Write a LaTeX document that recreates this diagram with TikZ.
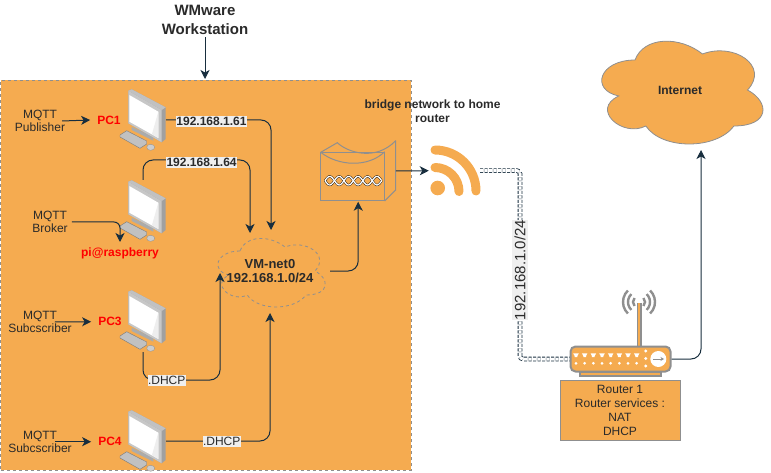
\documentclass[tikz,border=0pt]{standalone}
\usepackage{fontspec}
\setmainfont{Liberation Sans}
\usetikzlibrary{arrows.meta,calc}
\definecolor{boxfill}{HTML}{F5AB50}
\definecolor{wirecol}{HTML}{182E3E}
\definecolor{greyline}{HTML}{8F8F8F}
\definecolor{labelbg}{HTML}{EFEFEF}
\definecolor{inkcol}{HTML}{2A2A2A}
\newcommand{\fs}[1]{\fontsize{#1}{#1}\selectfont}
\newcommand{\cloudshape}[5]{%
  \begin{scope}[shift={(#1,#2)},x=#3pt,y=-#4pt]
    \draw[#5] (.25,.25) .. controls (.05,.25) and (0,.5) .. (.16,.55)
      .. controls (0,.66) and (.18,.9) .. (.31,.8)
      .. controls (.4,1) and (.7,1) .. (.8,.8)
      .. controls (1,.8) and (1,.6) .. (.875,.5)
      .. controls (1,.3) and (.8,.1) .. (.625,.2)
      .. controls (.5,.05) and (.3,.05) .. (.25,.25) -- cycle;
  \end{scope}}
\tikzset{
  wire/.style={draw=wirecol,line width=1pt,rounded corners=10pt,-{Stealth[length=9pt,width=9pt,inset=2.5pt]}},
  dblwire/.style={draw=wirecol,line width=.8pt,double=white,double distance=3pt,dash pattern=on 3pt off 1.5pt,rounded corners=3pt},
  txt/.style={text=inkcol,font=\fs{12},align=center,inner sep=1pt},
  boldtxt/.style={txt,font=\fs{12}\bfseries},
  redtxt/.style={text=red,font=\fs{12}\bfseries,inner xsep=7pt,inner ysep=1pt},
  iplabel/.style={boldtxt,fill=labelbg,inner xsep=0.5pt,inner ysep=1.5pt},
  dhcplabel/.style={txt,fill=labelbg,inner xsep=0.5pt,inner ysep=1.5pt},
  pcbox/.style={minimum width=46pt,minimum height=62pt,inner sep=0pt},
  pcicon/.pic={
    \fill[greyline!75] (-11.3,6.7)--(10.3,16.7)--(10.3,20.7)--(-11.3,10)--cycle;
    \draw[greyline!85!black,line width=.4pt,fill=greyline!55] (-23,15)--(-16.3,10.7)--(3.7,21)--(3.7,24)--(-3,28.3)--(-23,17)--cycle;
    \draw[greyline,line width=.3pt,fill=greyline!45] (7.7,27.3) ellipse[x radius=4,y radius=3];
    \fill[greyline!85] (-14.7,-29.3)--(-11.3,-30.7)--(22.7,-12.7)--(22.7,19)--(18.7,22.3)--(-14.7,3.3)--cycle;
    \fill[greyline!55] (-14.7,-29.3)--(-11.3,-30.7)--(22.7,-12.7)--(18.7,-10)--cycle;
    \fill[greyline!50] (18.7,-10)--(-14.7,-29.3)--(-14.7,3.3)--(18.7,22.3)--cycle;
    \fill[white] (-13.7,-25)--(15.3,-8.3)--(15.3,18)--(-13.7,1.7)--cycle;
    \fill[greyline!15] (15.3,-8.3)--(15.3,18)--(9,14)--cycle;
  }
}
\begin{document}
\begin{tikzpicture}[x=1pt,y=-1pt]
\useasboundingbox (0,0) rectangle (771,473);
% container
\node[draw=greyline,dashed,fill=boxfill,line width=.7pt,anchor=north west,minimum width=410pt,minimum height=390pt,inner sep=0pt] (vmbox) at (0.5,80) {};
% clouds
\cloudshape{590}{30}{180}{120}{draw=greyline,fill=boxfill,line width=.8pt}
\cloudshape{210}{231}{120}{80}{draw=greyline,dashed,line width=.8pt}
\node[minimum width=180pt,minimum height=120pt,inner sep=0pt,boldtxt] (internet) at (680,90) {Internet};
\node[minimum width=120pt,minimum height=80pt,inner sep=0pt,font=\fs{13}\bfseries,text=inkcol,align=center] (vmnet) at (270,271) {VM-net0\\[1.5pt]192.168.1.0/24};
% computer placeholders
\node[pcbox] (pc1) at (143,120) {};
\node[pcbox] (pc2) at (143,211) {};
\node[pcbox] (pc3) at (143,321) {};
\node[pcbox] (pc4) at (143,441) {};
% bridge placeholder, wifi placeholder, router
\node[minimum width=75pt,minimum height=61pt,inner sep=0pt] (bridge) at (358.2,171) {};
\node[minimum width=51pt,minimum height=51pt,inner sep=0pt] (wifi) at (454.5,170.7) {};
\node[inner sep=0pt,font=\fs{15}\bfseries,text=inkcol,align=center] (title) at (205,19.5) {WMware\\[4pt]Workstation};
% free ends
\coordinate (tvm) at (205,79);
\coordinate (n1) at (271,230);
\coordinate (n2a) at (200,160);
\coordinate (n2) at (250,233);
\coordinate (n3a) at (180,380);
\coordinate (n3) at (220,273);
\coordinate (n4) at (270,313);
\coordinate (n6) at (701,150);
\coordinate (c1) at (520,170.7);
\coordinate (pib) at (120,242);
% router
\fill[greyline] (637,303) rectangle (641.5,347);
\fill[boxfill] (638.3,303) rectangle (640.2,347);
\foreach \r/\a in {6/42,11/46,16/46}{
  \draw[greyline,line width=2.4pt] (639,302) ++(180-\a:\r) arc[start angle=180-\a,end angle=180+\a,radius=\r];
  \draw[greyline,line width=2.4pt] (639,302) ++(-\a:\r) arc[start angle=-\a,end angle=\a,radius=\r];
}
\draw[greyline,line width=1.2pt,fill=boxfill] (580,372) rectangle (661,376);
\node[draw=greyline,fill=boxfill,line width=2pt,rounded corners=5pt,minimum width=100pt,minimum height=25pt,inner sep=0pt] (router) at (620.5,359) {};
\foreach \i in {0,...,7}{
  \fill[white] ({576+8.67*\i-2.8},353.3) -- ++(5.6,0) -- ++(-1.4,2.6) -- ++(0,1.2) -- ++(-2.8,0) -- ++(0,-1.2) -- cycle;
  \fill[white] ({576+8.67*\i},363.3) circle[radius=1.5];
}
\foreach \y in {351,358.5,366}{\fill[white] (645.7,\y) circle[radius=1.7];}
\fill[white] (658.3,359) circle[radius=8];
\draw[greyline,line width=1pt,-{Stealth[length=3.5pt,width=4pt]}] (653,359) -- (664,359);
\node[draw=greyline,fill=boxfill,line width=.8pt,minimum width=120pt,minimum height=60pt,inner sep=0pt,font=\fs{12},text=inkcol,align=center] (info) at (620,410.5) {Router 1\\[2pt]Router services :\\[2pt]NAT\\[2pt]DHCP};
% bridge
\begin{scope}[greyline,line width=1pt]
  \draw (320.7,152.3) rectangle (384.7,201);
  \draw (384.7,201) -- (395.7,190) -- (395.7,140.7);
  \draw (320.7,152.3) -- (337.3,142.7) .. controls (347,152) and (375,162) .. (395.7,140.7);
  \draw (320.7,152.3) .. controls (338,166) and (368,168) .. (384.7,151.7);
\end{scope}
\foreach \s in {1,-1}{\draw[black,line width=2.1pt] plot[domain=0:56.7,samples=70,smooth] ({\x+325},{180.7+\s*4.3*sin(\x/9.45*180)});}
\foreach \s in {1,-1}{\draw[white,line width=1.3pt] plot[domain=0:56.7,samples=70,smooth] ({\x+325},{180.7+\s*4.3*sin(\x/9.45*180)});}
% wifi
\fill[boxfill] (437.7,188) circle[radius=7.3];
\draw[boxfill,line width=9pt,line cap=round] (435,167.5) arc[start angle=-90,end angle=0,radius=24];
\draw[boxfill,line width=9pt,line cap=round] (435,150) arc[start angle=-90,end angle=0,radius=41];
% connectors
\draw[wire] (title.south) ++(0,3) -- (tvm);
\draw[wire] (pc1.east) -| (n1);
\draw[wire] (pc2.north) |- (n2a) -| (n2);
\draw[wire] (pc3.south) |- (n3a) -| (n3);
\draw[wire] (pc4.east) -| (n4);
\draw[wire] (vmnet.east) -| (bridge.south);
\draw[wire,rounded corners=0pt] (bridge.east) -- (wifi.west);
\draw[wire] (router.east) -| (n6);
\draw[dblwire] (wifi.east) -- (c1) |- (router.west);
% computers
\pic at (pc1) {pcicon};
\pic at (pc2) {pcicon};
\pic at (pc3) {pcicon};
\pic at (pc4) {pcicon};
% side labels
\node[txt] (pub) at (40,121) {MQTT\\[1.5pt]Publisher};
\node[txt] (bro) at (50,222) {MQTT\\[1.5pt]Broker};
\node[txt] (sub3) at (40,322) {MQTT\\[1.5pt]Subcscriber};
\node[txt] (sub4) at (40,441.7) {MQTT\\[1.5pt]Subcscriber};
\node[redtxt] (l1) at (109,120) {PC1};
\node[redtxt] (l3) at (110,321.7) {PC3};
\node[redtxt] (l4) at (110,441.7) {PC4};
\node[redtxt,inner xsep=0pt] (lpi) at (120,253) {pi@raspberry};
\draw[wire,rounded corners=0pt] ([xshift=-4pt]pub.east) -- (l1.west);
\draw[wire,rounded corners=0pt] ([xshift=-18pt]sub3.east) -- (l3.west);
\draw[wire,rounded corners=0pt] ([xshift=-18pt]sub4.east) -- (l4.west);
\draw[wire,rounded corners=6pt] ([xshift=3pt]bro.east) -| (pib);
% wire labels
\node[iplabel] (ip1) at (211.5,121.7) {192.168.1.61};
\node[iplabel] (ip2) at (201.6,162.7) {192.168.1.64};
\node[dhcplabel] (d3) at (166.7,380.7) {.DHCP};
\node[dhcplabel] (d4) at (221.7,441.7) {.DHCP};
\node[txt,font=\fs{15},fill=labelbg,rotate=90,inner xsep=0pt,inner ysep=2pt] (wanlab) at (520,270) {192.168.1.0/24};
\node[boldtxt] (bridgelabel) at (432.5,111) {bridge network to home\\[2pt]router};
\end{tikzpicture}
\end{document}
